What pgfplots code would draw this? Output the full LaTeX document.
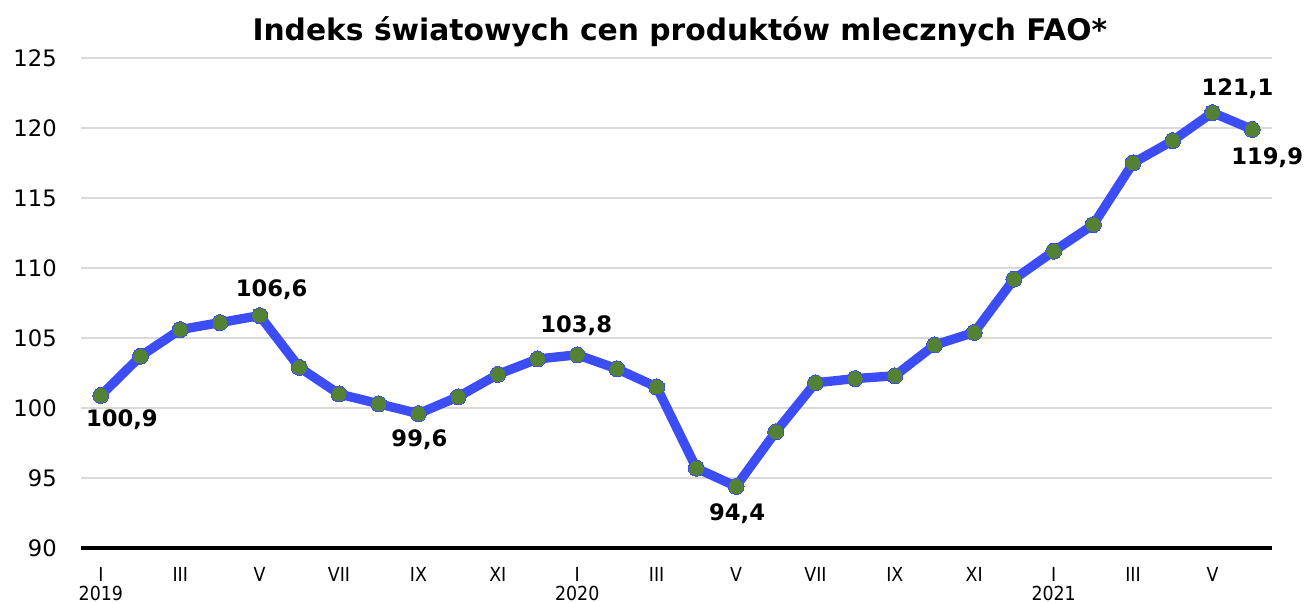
\documentclass[border=0pt]{standalone}
\usepackage{pgfplots}
\pgfplotsset{compat=1.18}
\usepackage{fontspec}
\setmainfont{DejaVu Sans}
\newfontfamily\condfont{DejaVu Sans Condensed}
\definecolor{lineblue}{HTML}{3D4DF5}
\definecolor{markgreen}{HTML}{548235}
\definecolor{gridgray}{HTML}{D9D9D9}
\begin{document}
\begin{tikzpicture}
\path[use as bounding box] (-60.75pt,-41.25pt) rectangle (924.75pt,411pt);
\begin{axis}[
  at={(0,0)}, anchor=south west,
  scale only axis, width=893.25pt, height=367.5pt,
  xmin=-0.5, xmax=29.5, ymin=90, ymax=125,
  axis x line=bottom, axis y line=left,
  x axis line style={black, line width=3pt, -},
  y axis line style={draw=none},
  major tick length=0pt,
  ytick={90,95,...,125},
  ymajorgrids, grid style={gridgray, line width=1.2pt},
  xtick={0,2,...,28},
  xticklabels={{I\\2019},III,V,VII,IX,XI,{I\\2020},III,V,VII,IX,XI,{I\\2021},III,V},
  xticklabel style={font=\condfont\fontsize{14.5}{14.5}\selectfont, align=center, anchor=north, inner sep=0pt, yshift=-14pt},
  yticklabel style={font=\fontsize{17}{20}\selectfont, anchor=east, inner sep=0pt, xshift=-18pt},
  /pgf/number format/assume math mode=true,
  title={Indeks światowych cen produktów mlecznych FAO*},
  title style={font=\bfseries\fontsize{22.3}{26}\selectfont, at={(0.5,1)}, anchor=base, yshift=7.5pt, xshift=2.5pt},
  clip=false,
]
\addplot[lineblue, line width=7pt, line join=round, mark=*, mark size=6pt, mark options={fill=markgreen, draw=none, line width=0pt}] table {
x y
0 100.9
1 103.7
2 105.6
3 106.1
4 106.6
5 102.9
6 101.0
7 100.3
8 99.6
9 100.8
10 102.4
11 103.5
12 103.8
13 102.8
14 101.5
15 95.7
16 94.4
17 98.3
18 101.8
19 102.1
20 102.3
21 104.5
22 105.4
23 109.2
24 111.2
25 113.1
26 117.5
27 119.1
28 121.1
29 119.9
};
\addplot[draw=none, mark=none,
  point meta=explicit,
  visualization depends on={value \thisrow{dx} \as \dx},
  visualization depends on={value \thisrow{dy} \as \dy},
  nodes near coords={\pgfmathprintnumber[fixed, fixed zerofill, precision=1, use comma, assume math mode=true]{\pgfplotspointmeta}},
  nodes near coords style={font=\bfseries\fontsize{17}{20}\selectfont, anchor=center, inner sep=0pt, xshift=\dx pt, yshift=\dy pt, black},
] table[meta=y] {
x y dx dy
0 100.9 15.75 -18
4 106.6 9 19.5
8 99.6 0.75 -19.5
12 103.8 -0.75 21.75
16 94.4 0.75 -20.25
28 121.1 18.75 18
29 119.9 11.25 -21
};
\end{axis}
\end{tikzpicture}
\end{document}
